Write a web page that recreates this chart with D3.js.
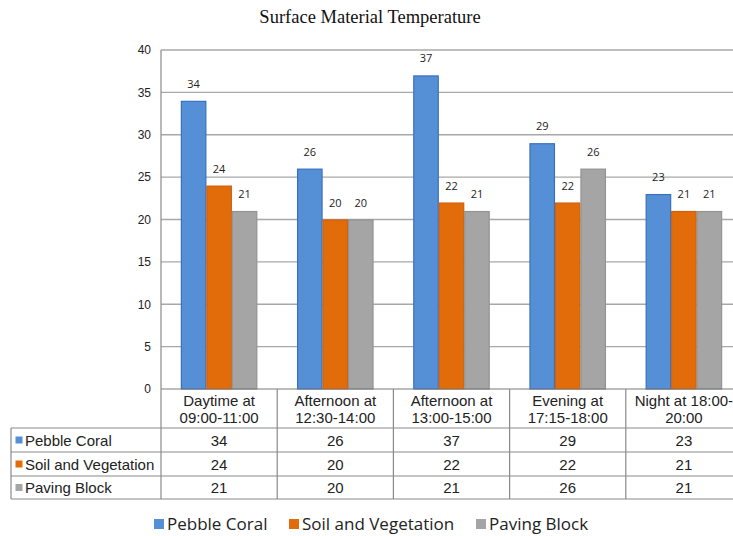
<!DOCTYPE html>
<html><head><meta charset="utf-8">
<script src="https://cdn.jsdelivr.net/npm/d3@7"></script>
<style>body{margin:0;background:#fff}svg{display:block}</style>
</head><body>
<script>
const categories = [["Daytime at","09:00-11:00"],["Afternoon at","12:30-14:00"],["Afternoon at","13:00-15:00"],["Evening at","17:15-18:00"],["Night at 18:00-","20:00"]];
const seriesNames = ["Pebble Coral","Soil and Vegetation","Paving Block"];
const pebbleCoral = [34,26,37,29,23];
const soilVegetation = [24,20,22,22,21];
const pavingBlock = [21,20,21,26,21];
const yTicks = [0,5,10,15,20,25,30,35,40];
const title = "Surface Material Temperature";

const seriesValues = [pebbleCoral, soilVegetation, pavingBlock];
const fills = ["#5590d6","#e36c0a","#a5a5a5"];
const strokes = ["#3a6fbf","#d0600a","#939393"];

const W = 733, H = 536;
const svg = d3.select("body").append("svg").attr("width",W).attr("height",H);

const catIdx = categories.map((d,i)=>i);
const x = d3.scaleBand().domain(catIdx).range([161,742]).paddingInner(0).paddingOuter(0);
const x1 = d3.scaleBand().domain([0,1,2]).range([0,x.bandwidth()]).paddingInner(0).paddingOuter(0.78);
const y = d3.scaleLinear().domain([0,40]).range([389,50]);

// title
svg.append("text").attr("x",370).attr("y",23).attr("text-anchor","middle")
  .attr("font-family","Liberation Serif, Times New Roman, serif").attr("font-size",18.5)
  .attr("fill","#111").text(title);

// gridlines
svg.append("g").selectAll("line").data(yTicks.filter(d=>d>0)).join("line")
  .attr("x1",161).attr("x2",742).attr("y1",d=>y(d)).attr("y2",d=>y(d))
  .attr("stroke","#a8a8a8").attr("stroke-width",1.3);

// y axis labels
const yAxis = d3.axisLeft(y).tickValues(yTicks).tickSize(0).tickPadding(10);
const ga = svg.append("g").attr("transform","translate(161,0)").call(yAxis);
ga.select(".domain").remove();
ga.selectAll("text").attr("font-family","Liberation Sans, Arial, sans-serif").attr("font-size",12).attr("fill","#222");

// bars
seriesValues.forEach((vals,s)=>{
  const g = svg.append("g");
  g.selectAll("rect").data(vals).join("rect")
    .attr("x",(d,i)=>x(i)+x1(s)+0.5).attr("width",x1.bandwidth()-1)
    .attr("y",d=>y(d)+0.5).attr("height",d=>y(0)-y(d)-0.5)
    .attr("fill",fills[s]).attr("stroke",strokes[s]).attr("stroke-width",1.2);
  g.selectAll("text").data(vals).join("text")
    .attr("x",(d,i)=>x(i)+x1(s)+x1.bandwidth()/2).attr("y",d=>y(d)-13)
    .attr("text-anchor","middle").attr("font-family","Open Sans, sans-serif")
    .attr("font-size",11).attr("fill","#222").text(d=>d);
});

// table lines
const tg = svg.append("g").attr("stroke","#8a8a8a").attr("stroke-width",1.2);
const rowY = [389,428,452,476,499];
tg.append("line").attr("x1",161).attr("x2",742).attr("y1",389).attr("y2",389).attr("stroke","#7a7a7a");
rowY.slice(1).forEach(yy=>tg.append("line").attr("x1",11).attr("x2",742).attr("y1",yy).attr("y2",yy));
tg.append("line").attr("x1",11).attr("x2",11).attr("y1",428).attr("y2",499);
tg.append("line").attr("x1",161).attr("x2",161).attr("y1",50).attr("y2",499).attr("stroke","#8a8a8a");
catIdx.forEach(i=>{
  tg.append("line").attr("x1",x(i)+x.bandwidth()).attr("x2",x(i)+x.bandwidth()).attr("y1",389).attr("y2",499);
});

const tf = "Liberation Sans, Arial, sans-serif";
// header category labels
categories.forEach((c,i)=>{
  const t = svg.append("text").attr("text-anchor","middle").attr("font-family",tf).attr("font-size",15).attr("fill","#222");
  c.forEach((line,k)=>t.append("tspan").attr("x",x(i)+x.bandwidth()/2).attr("y",405.5+k*17).text(line));
});
// rows
seriesValues.forEach((vals,s)=>{
  const cy = (rowY[s+1]+rowY[s+2])/2;
  svg.append("rect").attr("x",15.5).attr("y",cy-3.5).attr("width",7).attr("height",7).attr("fill",fills[s]);
  svg.append("text").attr("x",25).attr("y",cy+5.5).attr("font-family",tf).attr("font-size",15).attr("fill","#222").text(seriesNames[s]);
  svg.append("g").selectAll("text").data(vals).join("text")
    .attr("x",(d,i)=>x(i)+x.bandwidth()/2).attr("y",cy+5.5).attr("text-anchor","middle")
    .attr("font-family",tf).attr("font-size",15).attr("fill","#222").text(d=>d);
});

// legend
const legX = [154,289,476];
seriesNames.forEach((n,s)=>{
  svg.append("rect").attr("x",legX[s]).attr("y",519).attr("width",10).attr("height",10).attr("fill",fills[s]);
  svg.append("text").attr("x",legX[s]+13).attr("y",530).attr("font-family","Open Sans, sans-serif")
    .attr("font-size",17).attr("fill","#222").text(n);
});
</script>
</body></html>
